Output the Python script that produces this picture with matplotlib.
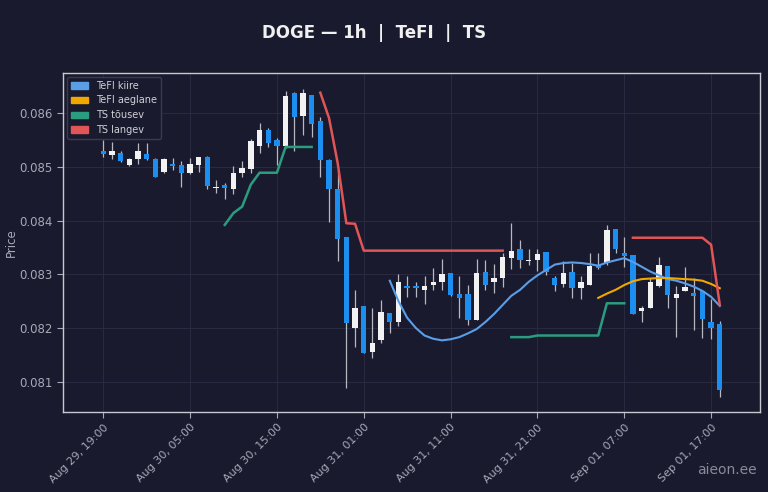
import matplotlib
matplotlib.use('Agg')
import matplotlib.pyplot as plt
import matplotlib.dates as mdates
from matplotlib.patches import Patch
import numpy as np
import pandas as pd

# hourly candles, Aug 29 19:00 -> Sep 01 18:00
times = pd.date_range("2024-08-29 19:00", periods=72, freq="h")

opens = [0.08530, 0.08522, 0.08526, 0.08503, 0.08515, 0.08524, 0.08514, 0.08491, 0.08506, 0.08504,
         0.08488, 0.08504, 0.08519, 0.08460, 0.08466, 0.08459, 0.08488, 0.08496, 0.08538, 0.08569,
         0.08550, 0.08538, 0.08637, 0.08595, 0.08634, 0.08586, 0.08513, 0.08459, 0.08369, 0.08200,
         0.08241, 0.08156, 0.08178, 0.08228, 0.08212, 0.08277, 0.08277, 0.08271, 0.08280, 0.08286,
         0.08303, 0.08264, 0.08264, 0.08214, 0.08304, 0.08285, 0.08293, 0.08330, 0.08347, 0.08324,
         0.08327, 0.08342, 0.08293, 0.08282, 0.08305, 0.08274, 0.08280, 0.08317, 0.08321, 0.08384,
         0.08340, 0.08336, 0.08232, 0.08237, 0.08278, 0.08316, 0.08256, 0.08269, 0.08265, 0.08269,
         0.08212, 0.08207]
highs = [0.08550, 0.08547, 0.08529, 0.08517, 0.08544, 0.08545, 0.08516, 0.08516, 0.08517, 0.08510,
         0.08517, 0.08518, 0.08520, 0.08476, 0.08470, 0.08501, 0.08511, 0.08552, 0.08581, 0.08572,
         0.08553, 0.08642, 0.08640, 0.08645, 0.08634, 0.08593, 0.08514, 0.08494, 0.08369, 0.08270,
         0.08241, 0.08237, 0.08252, 0.08228, 0.08301, 0.08296, 0.08286, 0.08296, 0.08311, 0.08328,
         0.08303, 0.08297, 0.08280, 0.08328, 0.08327, 0.08319, 0.08340, 0.08395, 0.08364, 0.08347,
         0.08347, 0.08342, 0.08296, 0.08324, 0.08321, 0.08296, 0.08340, 0.08339, 0.08392, 0.08384,
         0.08370, 0.08336, 0.08241, 0.08293, 0.08333, 0.08316, 0.08278, 0.08313, 0.08293, 0.08269,
         0.08254, 0.08213]
lows = [0.08519, 0.08514, 0.08509, 0.08501, 0.08505, 0.08513, 0.08481, 0.08489, 0.08494, 0.08463,
        0.08487, 0.08491, 0.08459, 0.08451, 0.08440, 0.08450, 0.08482, 0.08488, 0.08526, 0.08536,
        0.08504, 0.08535, 0.08529, 0.08560, 0.08556, 0.08481, 0.08398, 0.08324, 0.08088, 0.08165,
        0.08153, 0.08144, 0.08172, 0.08190, 0.08203, 0.08258, 0.08258, 0.08245, 0.08271, 0.08271,
        0.08260, 0.08218, 0.08206, 0.08214, 0.08271, 0.08266, 0.08277, 0.08310, 0.08311, 0.08318,
        0.08306, 0.08299, 0.08268, 0.08277, 0.08256, 0.08254, 0.08280, 0.08309, 0.08317, 0.08340,
        0.08314, 0.08226, 0.08212, 0.08237, 0.08276, 0.08237, 0.08184, 0.08268, 0.08197, 0.08181,
        0.08179, 0.08072]
closes = [0.08524, 0.08529, 0.08511, 0.08515, 0.08530, 0.08515, 0.08482, 0.08514, 0.08502, 0.08488,
          0.08506, 0.08518, 0.08465, 0.08463, 0.08461, 0.08489, 0.08498, 0.08549, 0.08569, 0.08544,
          0.08539, 0.08631, 0.08593, 0.08638, 0.08580, 0.08513, 0.08459, 0.08365, 0.08209, 0.08238,
          0.08154, 0.08172, 0.08229, 0.08212, 0.08286, 0.08275, 0.08275, 0.08278, 0.08286, 0.08301,
          0.08262, 0.08256, 0.08215, 0.08303, 0.08280, 0.08293, 0.08333, 0.08344, 0.08327, 0.08327,
          0.08337, 0.08305, 0.08280, 0.08302, 0.08274, 0.08285, 0.08316, 0.08311, 0.08383, 0.08347,
          0.08334, 0.08226, 0.08237, 0.08285, 0.08318, 0.08262, 0.08264, 0.08276, 0.08260, 0.08216,
          0.08200, 0.08085]

nan = np.nan
# TeFI kiire (fast) from candle 33
tefi_fast = [nan] * 33 + [0.08288, 0.08250, 0.08219, 0.08200, 0.08186, 0.08180, 0.08177, 0.08179,
                          0.08183, 0.08190, 0.08198, 0.08211, 0.08226, 0.08243, 0.08260, 0.08271,
                          0.08286, 0.08298, 0.08308, 0.08318, 0.08321, 0.08322, 0.08321, 0.08319,
                          0.08316, 0.08322, 0.08326, 0.08330, 0.08323, 0.08314, 0.08305, 0.08298,
                          0.08291, 0.08288, 0.08283, 0.08277, 0.08269, 0.08258, 0.08241]
# TeFI aeglane (slow) from candle 57
tefi_slow = [nan] * 57 + [0.08256, 0.08264, 0.08271, 0.08280, 0.08287, 0.08291, 0.08292, 0.08293,
                          0.08293, 0.08292, 0.08291, 0.08290, 0.08288, 0.08282, 0.08274]
# TS rising / falling
ts_up = ([nan] * 14 + [0.08392, 0.08414, 0.08426, 0.08467, 0.08489, 0.08489, 0.08489,
                       0.08537, 0.08537, 0.08537, 0.08537]
         + [nan] * 22 + [0.08183, 0.08183, 0.08183, 0.08186, 0.08186, 0.08186, 0.08186,
                         0.08186, 0.08186, 0.08186, 0.08186, 0.08246, 0.08246, 0.08246] + [nan] * 11)
ts_down = ([nan] * 25 + [0.08638, 0.08591, 0.08507, 0.08395, 0.08394] + [0.08344] * 17
           + [nan] * 14 + [0.08368] * 9 + [0.08355, 0.08243])

BG = "#1a1a2e"
BULL = "#f2f2f2"
BEAR = "#1c8ef0"
C_FAST = "#5a9ee8"
C_SLOW = "#f0a800"
C_UP = "#2a9d80"
C_DOWN = "#e05555"

fig = plt.figure(figsize=(7.68, 4.92), dpi=100, facecolor=BG)
ax = fig.add_axes([0.082, 0.163, 0.908, 0.689], facecolor=BG)

x = mdates.date2num(times)
w = 0.62 / 24
for i in range(len(x)):
    o, h, l, c = opens[i], highs[i], lows[i], closes[i]
    col = BULL if c >= o else BEAR
    ax.vlines(x[i], l, h, color="#b8b8c0", linewidth=0.9, zorder=2)
    body = max(abs(c - o), 0.00003)
    ax.bar(x[i], body, width=w, bottom=min(o, c), color=col, edgecolor=col, linewidth=0, zorder=3)

ax.plot(x, tefi_fast, color=C_FAST, linewidth=1.5, zorder=4)
ax.plot(x, tefi_slow, color=C_SLOW, linewidth=1.5, zorder=4)
ax.plot(x, ts_up, color=C_UP, linewidth=1.8, zorder=4)
ax.plot(x, ts_down, color=C_DOWN, linewidth=1.8, zorder=4)

ax.set_xlim(mdates.date2num(pd.Timestamp("2024-08-29 14:22")),
            mdates.date2num(pd.Timestamp("2024-09-01 22:40")))
ax.set_ylim(0.08044, 0.08675)

ticks = pd.date_range("2024-08-29 19:00", periods=8, freq="10h")
ax.set_xticks(mdates.date2num(ticks))
ax.xaxis.set_major_formatter(mdates.DateFormatter("%b %d, %H:%M"))
ax.set_yticks([0.081, 0.082, 0.083, 0.084, 0.085, 0.086])
ax.yaxis.set_major_formatter(matplotlib.ticker.FormatStrFormatter("%.3f"))
for lab in ax.get_xticklabels():
    lab.set_rotation(45)
    lab.set_ha("right")
    lab.set_rotation_mode("anchor")
ax.tick_params(colors="#a8a8b8", labelsize=8.5, length=4)
ax.tick_params(axis="x", labelsize=8)
ax.grid(True, color="#2a2a42", linewidth=0.7)
ax.set_axisbelow(True)
for s in ax.spines.values():
    s.set_color("#c8c8d0")
    s.set_linewidth(1)

ax.set_ylabel("Price", color="#a8a8b8", fontsize=8.5)
ax.yaxis.set_label_coords(-0.065, 0.5)
fig.text(0.487, 0.932, "DOGE \u2014 1h  |  TeFI  |  TS", color="#f0f0f0",
         fontsize=12, fontweight="bold", ha="center", va="center")

handles = [Patch(color=C_FAST, label="TeFI kiire"),
           Patch(color=C_SLOW, label="TeFI aeglane"),
           Patch(color=C_UP, label="TS t\u00f5usev"),
           Patch(color=C_DOWN, label="TS langev")]
leg = ax.legend(handles=handles, loc="upper left", fontsize=7, facecolor=BG,
                edgecolor="#3a3a55", labelcolor="#d0d0d8", framealpha=1,
                handlelength=1.8, borderaxespad=0.4)

fig.text(0.985, 0.045, "aieon.ee", color="#8a8a9a", fontsize=10, ha="right", va="center")

plt.savefig("out.png", dpi=100, facecolor=BG)
